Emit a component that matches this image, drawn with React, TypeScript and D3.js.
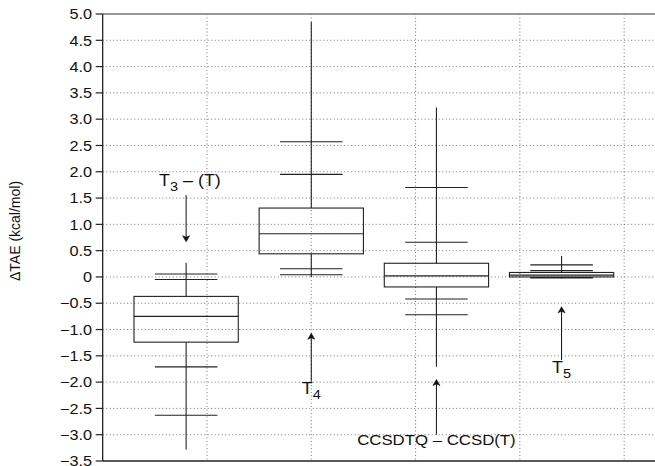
import React from "react";
import * as d3 from "d3";

// ---- data ----
const positions = [1, 2, 3, 4];
const minVals = [-3.28, 0.0, -1.71, -0.03];
const p1Vals = [-2.63, 0.042, -0.72, -0.02];
const p5Vals = [-1.71, 0.156, -0.42, -0.01];
const q1Vals = [-1.24, 0.44, -0.19, 0.0];
const medianVals = [-0.75, 0.82, 0.02, 0.035];
const q3Vals = [-0.37, 1.31, 0.26, 0.085];
const p95Vals = [-0.05, 1.95, 0.66, 0.12];
const p99Vals = [0.055, 2.57, 1.70, 0.23];
const maxVals = [0.27, 4.85, 3.22, 0.4];

const yTicks = d3.range(-3.5, 5.01, 0.5);

// annotations
const annMain = ["T", "T", "CCSDTQ – CCSD(T)", "T"];
const annSub = ["3", "4", "", "5"];
const annRest = [" – (T)", "", "", ""];
const annX = [1, 2, 3, 4];
const annLabelDx = [0.03, 0, 0, 0];
const annArrowFrom = [1.557, -1.99, -3.0, -1.58];
const annArrowTo = [0.669, -1.07, -1.95, -0.567];
const annLabelY = [1.72, -2.22, -3.2, -1.82];
const annFont = [16, 16, 15, 16];

const W = 655;
const H = 466;
const left = 102.7;
const right = 655;
const top = 14;
const bottom = 461;

const x = d3.scaleLinear().domain([1 / 3, 4.7465]).range([left, right]);
const y = d3.scaleLinear().domain([-3.5, 5]).range([bottom, top]);
const xGrid = d3.range(1 / 3 + 5 / 6, 4.74, 5 / 6);
const boxW = 5 / 6;
const capW = 0.5;
const SX = 1.12;
const fmt = (v: number) => (Math.abs(v) < 1e-9 ? "0" : d3.format(".1f")(v));
const FONT = "'Liberation Sans', Arial, Helvetica, sans-serif";

function Arrow({ xv, from, to }: { xv: number; from: number; to: number }) {
  const px = x(xv);
  const y1 = y(from);
  const y2 = y(to);
  const dir = y2 > y1 ? 1 : -1;
  const head = `M${px - 3.5},${y2 - dir * 6} L${px},${y2} L${px + 3.5},${y2 - dir * 6} L${px},${y2 - dir * 4.5} Z`;
  return (
    <g>
      <line x1={px} x2={px} y1={y1} y2={y2 - dir * 3} stroke="#111" strokeWidth={1} />
      <path d={head} fill="#111" stroke="#111" strokeWidth={0.6} />
    </g>
  );
}

export default function App() {
  return (
    <svg
      width={W}
      height={H}
      style={{ position: "absolute", left: 0, top: 0, background: "#fff" }}
      fontFamily={FONT}
    >
      <rect x={0} y={0} width={W} height={H} fill="#fff" />
      {/* grid */}
      {yTicks
        .filter((t) => t > -3.5 && t < 5)
        .map((t) => (
          <line
            key={"gy" + t}
            x1={left}
            x2={right}
            y1={y(t)}
            y2={y(t)}
            stroke="#555"
            strokeWidth={0.8}
            strokeDasharray="1,2.5"
          />
        ))}
      {xGrid.map((g) => (
        <line
          key={"gx" + g}
          x1={x(g)}
          x2={x(g)}
          y1={top}
          y2={bottom}
          stroke="#555"
          strokeWidth={0.8}
          strokeDasharray="1,2.5"
        />
      ))}
      {/* frame */}
      <line x1={left} x2={right} y1={top} y2={top} stroke="#777" strokeWidth={1.5} />
      <line x1={left} x2={right} y1={bottom} y2={bottom} stroke="#222" strokeWidth={1.5} />
      <line x1={left} x2={left} y1={top} y2={bottom} stroke="#111" strokeWidth={1.2} />
      {/* y ticks */}
      {yTicks.map((t) => (
        <g key={"t" + t}>
          <line x1={left - 7} x2={left} y1={y(t)} y2={y(t)} stroke="#222" strokeWidth={1.2} />
          <text
            transform={`translate(${92},${y(t)}) scale(${SX},1)`}
            textAnchor="end"
            dy="0.36em"
            fontSize={14.5}
            fill="#111"
          >
            {fmt(t)}
          </text>
        </g>
      ))}
      {/* y label */}
      <text
        transform={`translate(20,${231}) rotate(-90)`}
        textAnchor="middle"
        fontSize={14}
        fill="#111"
      >
        ΔTAE (kcal/mol)
      </text>
      {/* boxes */}
      {positions.map((p, i) => {
        const cx = x(p);
        const bx0 = x(p - boxW / 2);
        const bx1 = x(p + boxW / 2);
        const cx0 = x(p - capW / 2);
        const cx1 = x(p + capW / 2);
        const marks = [p1Vals[i], p5Vals[i], p95Vals[i], p99Vals[i]];
        return (
          <g key={"b" + i} stroke="#222" strokeWidth={1.1} fill="none">
            <line x1={cx} x2={cx} y1={y(maxVals[i])} y2={y(q3Vals[i])} />
            <line x1={cx} x2={cx} y1={y(q1Vals[i])} y2={y(minVals[i])} />
            <rect
              x={bx0}
              y={y(q3Vals[i])}
              width={bx1 - bx0}
              height={y(q1Vals[i]) - y(q3Vals[i])}
              fill="none"
            />
            <line x1={bx0} x2={bx1} y1={y(medianVals[i])} y2={y(medianVals[i])} />
            {marks.map((m, j) => (
              <line key={j} x1={cx0} x2={cx1} y1={y(m)} y2={y(m)} />
            ))}
          </g>
        );
      })}
      {/* annotations */}
      {annX.map((a, i) => (
        <g key={"a" + i}>
          <Arrow xv={a} from={annArrowFrom[i]} to={annArrowTo[i]} />
          <text
            transform={`translate(${x(a + annLabelDx[i])},${y(annLabelY[i])}) scale(${SX},1)`}
            textAnchor="middle"
            fontSize={annFont[i]}
            fill="#111"
          >
            {annMain[i]}
            {annSub[i] ? (
              <tspan fontSize={13} dy={5}>
                {annSub[i]}
              </tspan>
            ) : null}
            {annRest[i] ? <tspan dy={-5}>{annRest[i]}</tspan> : null}
          </text>
        </g>
      ))}
    </svg>
  );
}
